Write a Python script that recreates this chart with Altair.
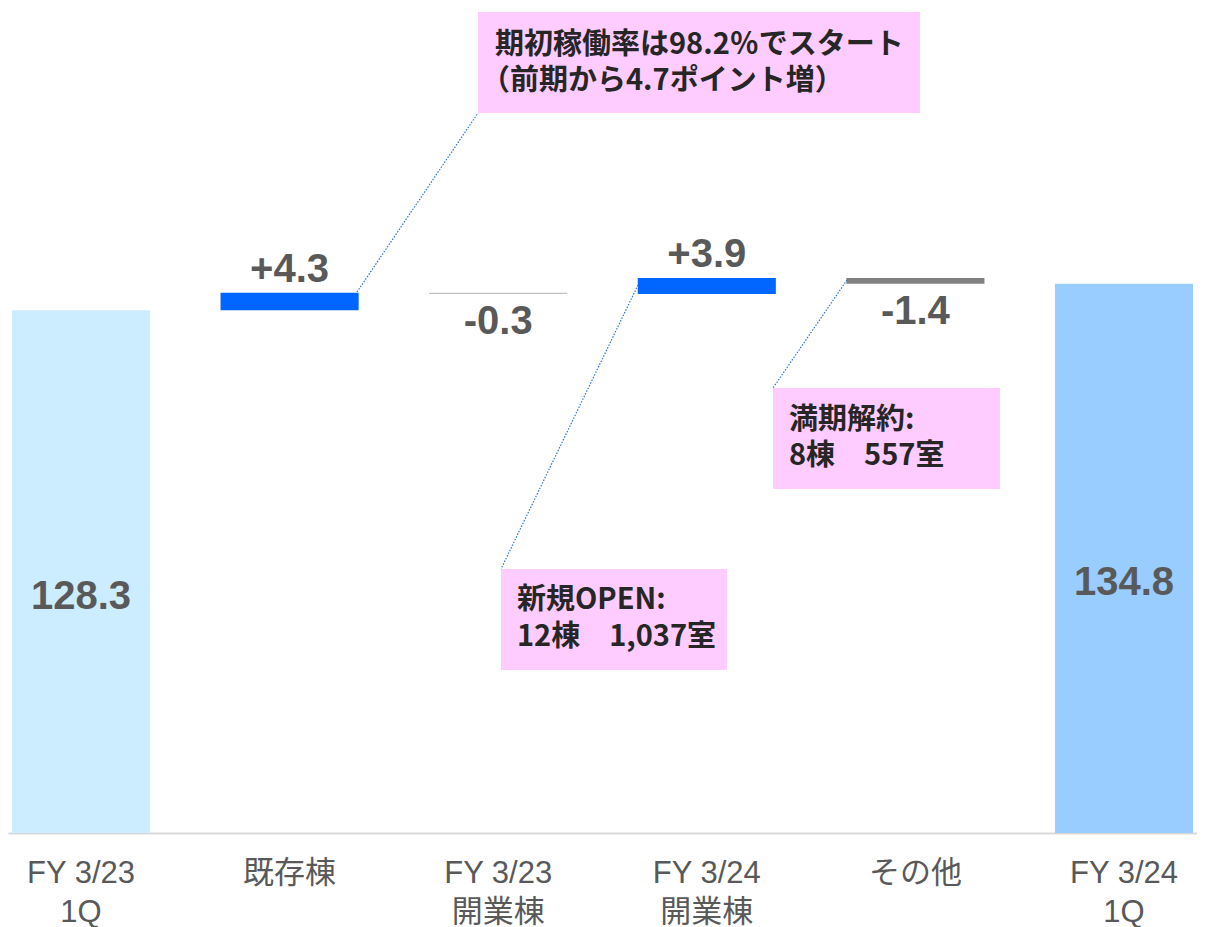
import altair as alt
import pandas as pd

categories = ["FY 3/23\n1Q", "既存棟", "FY 3/23\n開業棟", "FY 3/24\n開業棟", "その他", "FY 3/24\n1Q"]
values = [128.3, 4.3, -0.3, 3.9, -1.4, 134.8]
kinds = ["total", "delta", "delta", "delta", "delta", "total"]
labels = ["128.3", "+4.3", "-0.3", "+3.9", "-1.4", "134.8"]
colors = ["#CCECFF", "#0066FF", "#BFBFBF", "#0066FF", "#7F7F7F", "#99CCFF"]

notes = [
    "期初稼働率は98.2％でスタート\n（前期から4.7ポイント増）",
    "新規OPEN:\n12棟　1,037室",
    "満期解約:\n8棟　557室",
]

rows = []
run = 0.0
for c, v, k, lab, col in zip(categories, values, kinds, labels, colors):
    if k == "total":
        start, end = 0.0, v
        run = v
    else:
        start, end = run, run + v
        run = end
    if k == "total":
        ly, dy = v / 2, 25
    elif v >= 0:
        ly, dy = end, -23
    else:
        ly, dy = end, 28
    rows.append(dict(cat=c, start=start, end=end, color=col, label=lab, ly=ly, dy=dy))
df = pd.DataFrame(rows)

W, H = 1189, 825
xs = alt.X("cat:N", sort=categories, title=None,
           scale=alt.Scale(paddingInner=0.338, paddingOuter=0.019),
           axis=alt.Axis(labelExpr="split(datum.label, '\\n')", labelAngle=0,
                         labelFont="Liberation Sans, Noto Sans CJK JP", labelFontSize=31,
                         labelColor="#595959", labelLineHeight=39, labelPadding=25,
                         ticks=False, domainColor="#D9D9D9", domainWidth=2, grid=False))
ys = alt.Y("start:Q", scale=alt.Scale(domain=[0, 202.5], nice=False, zero=True), axis=None, title=None)

bars = alt.Chart(df).mark_bar().encode(
    x=xs, y=ys, y2="end:Q", color=alt.Color("color:N", scale=None)
)

lab_layers = []
for i, r in df.iterrows():
    lab_layers.append(
        alt.Chart(df.iloc[[i]]).mark_text(font="Liberation Sans", fontWeight="bold", fontSize=40,
                                          color="#595959", baseline="middle", dy=float(r["dy"])).encode(
            x=alt.X("cat:N", sort=categories), y=alt.Y("ly:Q"), text="label:N")
    )

# annotation boxes (pixel positions within plot)
boxes = [(470, 912, 4, 105), (493, 719, 561, 662), (765, 992, 380, 481)]
leaders = [((349, 284), (470, 105)), ((630, 277), (493, 561)), ((839, 272), (765, 380))]
text_pos = [(487, 37, 73, -14), (509, 592, 629, 0), (781, 412, 448, 0)]

ann = []
base = alt.Chart(pd.DataFrame({"a": [0]}))
for (x1, x2, y1, y2), ((lx1, ly1), (lx2, ly2)), (tx, t1, t2, dx2), note in zip(boxes, leaders, text_pos, notes):
    ann.append(base.mark_rect(color="#FFCCFF").encode(
        x=alt.value(x1), x2=alt.value(x2), y=alt.value(y1), y2=alt.value(y2)))
    ann.append(base.mark_rule(color="#2E75D6", strokeDash=[1.5, 1.5], strokeWidth=1.2).encode(
        x=alt.value(lx1), x2=alt.value(lx2), y=alt.value(ly1), y2=alt.value(ly2)))
    l1, l2 = note.split("\n")
    for t, yy, ddx in ((l1, t1, 0), (l2, t2, dx2)):
        ann.append(base.mark_text(font="Noto Sans CJK JP", fontWeight="bold", fontSize=29,
                                  color="#262626", align="left", baseline="middle", dx=ddx).encode(
            x=alt.value(tx), y=alt.value(yy), text=alt.value(t)))

chart = alt.layer(bars, *lab_layers, *ann).properties(
    width=W, height=H, padding=0, background="white"
).configure_view(stroke=None, strokeWidth=0)

chart.save("out.html", embed_options={"renderer": "svg", "actions": False})
